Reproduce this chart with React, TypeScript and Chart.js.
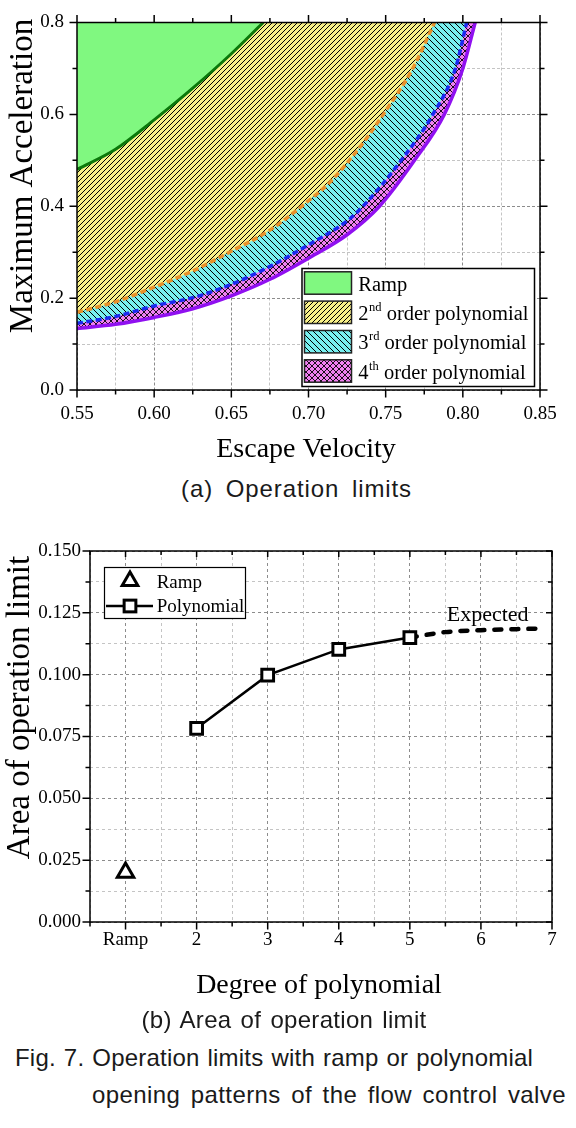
import React, { useEffect, useRef } from 'react';
import { Chart, registerables } from 'chart.js';

Chart.register(...registerables);

const SERIF = '"Liberation Serif", "Times New Roman", serif';
const SANS = '"Liberation Sans", Arial, sans-serif';

// ===== (a) Operation limits =====
const A_X_LABELS = ['0.55', '0.60', '0.65', '0.70', '0.75', '0.80', '0.85'];
const A_Y_LABELS = ['0.0', '0.2', '0.4', '0.6', '0.8'];
const A_X_TITLE = 'Escape Velocity';
const A_Y_TITLE = 'Maximum Acceleration';
const A_SERIES = ['Ramp', '2nd order polynomial', '3rd order polynomial', '4th order polynomial'];

const RAMP_EV = [0.55, 0.575, 0.6, 0.625, 0.65, 0.6707];
const RAMP_ACC = [0.48, 0.524, 0.588, 0.657, 0.732, 0.8];
const POLY2_EV = [0.55, 0.575, 0.6, 0.625, 0.65, 0.675, 0.7, 0.7138, 0.7343, 0.7485, 0.7676, 0.7817];
const POLY2_ACC = [0.169, 0.192, 0.224, 0.259, 0.302, 0.348, 0.412, 0.452, 0.533, 0.6, 0.7, 0.8];
const POLY3_EV = [0.55, 0.575, 0.6, 0.625, 0.65, 0.675, 0.7, 0.725, 0.7353, 0.7601, 0.7806, 0.7952, 0.8025];
const POLY3_ACC = [0.145, 0.16, 0.183, 0.201, 0.23, 0.269, 0.316, 0.368, 0.4, 0.5, 0.6, 0.7, 0.8];
const POLY4_EV = [0.55, 0.575, 0.6, 0.625, 0.65, 0.675, 0.7, 0.725, 0.746, 0.7687, 0.788, 0.8, 0.808];
const POLY4_ACC = [0.134, 0.143, 0.158, 0.177, 0.205, 0.241, 0.287, 0.338, 0.4, 0.5, 0.6, 0.7, 0.8];

// ===== (b) Area of operation limit =====
const B_X_LABELS = ['Ramp', '2', '3', '4', '5', '6', '7'];
const B_X_POS = [1, 2, 3, 4, 5, 6, 7];
const B_Y_LABELS = ['0.000', '0.025', '0.050', '0.075', '0.100', '0.125', '0.150'];
const B_X_TITLE = 'Degree of polynomial';
const B_Y_TITLE = 'Area of operation limit';
const B_SERIES = ['Ramp', 'Polynomial'];
const RAMP_DEGREE = [1];
const RAMP_AREA = [0.02];
const POLY_DEGREE = [2, 3, 4, 5];
const POLY_AREA = [0.0783, 0.0998, 0.1102, 0.115];
const EXPECTED_DEGREE = [5, 5.5, 6, 6.5, 6.9];
const EXPECTED_AREA = [0.115, 0.1172, 0.118, 0.1184, 0.1187];
const EXPECTED_TEXT = 'Expected';

const CAPTION_A = '(a) Operation limits';
const CAPTION_B = '(b) Area of operation limit';
const FIG_LINE1 = 'Fig. 7. Operation limits with ramp or polynomial';
const FIG_LINE2 = 'opening patterns of the flow control valve';

function withMinors(majors: number[]): number[] {
  const out: number[] = [];
  majors.forEach((m, i) => {
    out.push(m);
    if (i < majors.length - 1) out.push((m + majors[i + 1]) / 2);
  });
  return out;
}
function isMajor(majors: number[], v: number | undefined) {
  return v !== undefined && majors.some((m) => Math.abs(m - v) < 1e-9);
}
function labelAt(labels: string[], pos: number[], v: number) {
  const i = pos.findIndex((p) => Math.abs(p - v) < 1e-9);
  return i >= 0 ? labels[i] : '';
}

function hatch(bg: string, dirs: string[], size: number, lw: number): any {
  const c = document.createElement('canvas');
  c.width = size;
  c.height = size;
  const g = c.getContext('2d');
  if (!g) return bg;
  g.fillStyle = bg;
  g.fillRect(0, 0, size, size);
  g.strokeStyle = '#000';
  g.lineWidth = lw;
  for (const d of dirs) {
    g.beginPath();
    for (const o of [-size, 0, size]) {
      if (d === '/') {
        g.moveTo(o, size);
        g.lineTo(o + size, 0);
      } else {
        g.moveTo(o, 0);
        g.lineTo(o + size, size);
      }
    }
    g.stroke();
  }
  return g.createPattern(c, 'repeat') || bg;
}

type TickCfg = {
  out: { left: boolean; right: boolean; top: boolean; bottom: boolean };
  major: number;
  minor: number;
  inMajor: number;
  inMinor: number;
};

function drawFrame(chart: any, xMaj: number[], yMaj: number[], cfg: TickCfg) {
  const { ctx, chartArea: a } = chart;
  const sx = chart.scales.x;
  const sy = chart.scales.y;
  const len = (maj: boolean, out: boolean) =>
    out ? (maj ? cfg.major : cfg.minor) : maj ? cfg.inMajor : cfg.inMinor;
  ctx.save();
  ctx.strokeStyle = '#000';
  ctx.lineWidth = 1.5;
  ctx.beginPath();
  for (const t of sx.ticks) {
    const p = sx.getPixelForValue(t.value);
    const maj = isMajor(xMaj, t.value);
    const lb = len(maj, cfg.out.bottom);
    ctx.moveTo(p, a.bottom);
    ctx.lineTo(p, a.bottom + (cfg.out.bottom ? lb : -lb));
    const lt = len(maj, cfg.out.top);
    ctx.moveTo(p, a.top);
    ctx.lineTo(p, a.top + (cfg.out.top ? -lt : lt));
  }
  for (const t of sy.ticks) {
    const p = sy.getPixelForValue(t.value);
    const maj = isMajor(yMaj, t.value);
    const ll = len(maj, cfg.out.left);
    ctx.moveTo(a.left, p);
    ctx.lineTo(a.left + (cfg.out.left ? -ll : ll), p);
    const lr = len(maj, cfg.out.right);
    ctx.moveTo(a.right, p);
    ctx.lineTo(a.right + (cfg.out.right ? lr : -lr), p);
  }
  ctx.stroke();
  ctx.strokeRect(a.left, a.top, a.right - a.left, a.bottom - a.top);
  ctx.restore();
}

function textH(ctx: CanvasRenderingContext2D, s: string, x: number, y: number, font: string, align: CanvasTextAlign = 'center') {
  ctx.save();
  ctx.font = font;
  ctx.fillStyle = '#000';
  ctx.textAlign = align;
  ctx.textBaseline = 'alphabetic';
  ctx.fillText(s, x, y);
  ctx.restore();
}
function textV(ctx: CanvasRenderingContext2D, s: string, x: number, y: number, font: string) {
  ctx.save();
  ctx.translate(x, y);
  ctx.rotate(-Math.PI / 2);
  ctx.font = font;
  ctx.fillStyle = '#000';
  ctx.textAlign = 'center';
  ctx.textBaseline = 'alphabetic';
  ctx.fillText(s, 0, 0);
  ctx.restore();
}

function axisCommon(majors: number[], tickVals: number[], labels: string[], pos: number[], pad: number, dash: number[]) {
  return {
    type: 'linear' as const,
    afterBuildTicks: (s: any) => {
      s.ticks = tickVals.map((v) => ({ value: v }));
    },
    ticks: {
      autoSkip: false,
      maxRotation: 0,
      minRotation: 0,
      padding: pad,
      color: '#000',
      font: { family: SERIF, size: 19, lineHeight: 1 },
      callback: (v: any) => labelAt(labels, pos, Number(v)),
    },
    grid: {
      color: (c: any) => (isMajor(majors, c.tick ? c.tick.value : undefined) ? '#8c8c8c' : '#c4c4c4'),
      lineWidth: 1,
      drawTicks: false,
    },
    border: { display: false, dash },
  };
}

function ChartA() {
  const ref = useRef<HTMLCanvasElement>(null);
  useEffect(() => {
    const canvas = ref.current;
    if (!canvas) return;
    const fills = [
      '#80F880',
      hatch('#F8F088', ['/'], 5, 1.0),
      hatch('#78F0F0', ['\\'], 6, 1.0),
      hatch('#F080F0', ['/', '\\'], 6, 0.9),
    ];
    const lineColors = ['#0A780A', '#E8902A', '#1A2AF0', '#9010F0'];
    const dashes = [[], [6, 3.5], [6, 3.5], []];
    const widths = [3, 3.5, 3.5, 3.5];
    const xs = [RAMP_EV, POLY2_EV, POLY3_EV, POLY4_EV];
    const ys = [RAMP_ACC, POLY2_ACC, POLY3_ACC, POLY4_ACC];
    const xMaj = A_X_LABELS.map(Number);
    const yMaj = A_Y_LABELS.map(Number);

    const deco = {
      id: 'decoA',
      afterDatasetsDraw(chart: any) {
        drawFrame(chart, xMaj, yMaj, {
          out: { left: true, right: true, top: true, bottom: true },
          major: 7.5,
          minor: 4.5,
          inMajor: 0,
          inMinor: 0,
        });
      },
      afterDraw(chart: any) {
        const ctx = chart.ctx as CanvasRenderingContext2D;
        textH(ctx, A_X_TITLE, 306, 457, `28px ${SERIF}`);
        textV(ctx, A_Y_TITLE, 31.5, 176, `33px ${SERIF}`);
        // legend
        const bx = 302, by = 268.5, bw = 232.5, bh = 118;
        ctx.save();
        ctx.fillStyle = '#fff';
        ctx.fillRect(bx, by, bw, bh);
        ctx.strokeStyle = '#000';
        ctx.lineWidth = 1.5;
        ctx.strokeRect(bx, by, bw, bh);
        const rows = [283, 312.3, 341.7, 371];
        A_SERIES.forEach((name, i) => {
          const cy = rows[i];
          ctx.fillStyle = fills[i];
          ctx.fillRect(304.5, cy - 11.2, 47, 22.4);
          ctx.strokeStyle = '#222';
          ctx.lineWidth = 1.5;
          ctx.strokeRect(304.5, cy - 11.2, 47, 22.4);
          const m = name.match(/^(\d)(st|nd|rd|th)(.*)$/);
          const base = cy + 7.5;
          ctx.fillStyle = '#000';
          ctx.textAlign = 'left';
          ctx.textBaseline = 'alphabetic';
          const big = `20.5px ${SERIF}`;
          const small = `12.5px ${SERIF}`;
          let x = 358.3;
          if (m) {
            ctx.font = big;
            ctx.fillText(m[1], x, base);
            x += ctx.measureText(m[1]).width + 0.5;
            ctx.font = small;
            ctx.fillText(m[2], x, base - 9);
            x += ctx.measureText(m[2]).width;
            ctx.font = big;
            ctx.fillText(m[3], x, base);
          } else {
            ctx.font = big;
            ctx.fillText(name, x, base);
          }
        });
        ctx.restore();
      },
    };

    const chart = new Chart(canvas, {
      type: 'line',
      data: {
        datasets: A_SERIES.map((name, i) => ({
          label: name,
          data: xs[i].map((x, j) => ({ x, y: ys[i][j] })),
          borderColor: lineColors[i],
          borderWidth: widths[i],
          borderDash: dashes[i],
          backgroundColor: fills[i],
          fill: 'end',
          pointRadius: 0,
          pointHoverRadius: 0,
          cubicInterpolationMode: 'monotone',
          clip: 0,
        })) as any,
      },
      options: {
        responsive: false,
        animation: false,
        devicePixelRatio: 1,
        events: [],
        layout: { padding: { left: 0, top: 18, right: 36, bottom: 0 } },
        plugins: { legend: { display: false }, tooltip: { enabled: false } },
        scales: {
          x: {
            ...axisCommon(xMaj, withMinors(xMaj), A_X_LABELS, xMaj, 15, [3, 2]),
            min: 0.55,
            max: 0.85,
            afterFit: (s: any) => {
              s.height = 80;
            },
          },
          y: {
            ...axisCommon(yMaj, withMinors(yMaj), A_Y_LABELS, yMaj, 13, [3, 2]),
            min: 0,
            max: 0.8,
            afterFit: (s: any) => {
              s.width = 77;
            },
          },
        } as any,
      },
      plugins: [deco],
    });
    return () => chart.destroy();
  }, []);
  return (
    <canvas
      ref={ref}
      width={576}
      height={470}
      style={{ position: 'absolute', left: 0, top: 0, width: 576, height: 470 }}
    />
  );
}

function ChartB() {
  const ref = useRef<HTMLCanvasElement>(null);
  useEffect(() => {
    const canvas = ref.current;
    if (!canvas) return;
    const xMaj = B_X_POS;
    const xTicks = withMinors([0, ...B_X_POS]).filter((v) => v >= 0.5);
    const yMaj = B_Y_LABELS.map(Number);

    const drawTri = (ctx: CanvasRenderingContext2D, x: number, y: number, r: number) => {
      let rad = 0;
      ctx.beginPath();
      ctx.moveTo(x + Math.sin(rad) * r, y - Math.cos(rad) * r);
      rad += (2 * Math.PI) / 3;
      ctx.lineTo(x + Math.sin(rad) * r, y - Math.cos(rad) * r);
      rad += (2 * Math.PI) / 3;
      ctx.lineTo(x + Math.sin(rad) * r, y - Math.cos(rad) * r);
      ctx.closePath();
      ctx.fill();
      ctx.stroke();
    };

    const deco = {
      id: 'decoB',
      afterDatasetsDraw(chart: any) {
        drawFrame(chart, xMaj, yMaj, {
          out: { left: true, right: false, top: false, bottom: true },
          major: 7.5,
          minor: 4.5,
          inMajor: 6,
          inMinor: 4,
        });
      },
      afterDraw(chart: any) {
        const ctx = chart.ctx as CanvasRenderingContext2D;
        textH(ctx, B_X_TITLE, 319, 473.3, `28px ${SERIF}`);
        textV(ctx, B_Y_TITLE, 29, 187.5, `33px ${SERIF}`);
        textH(ctx, EXPECTED_TEXT, 446.7, 100.7, `22px ${SERIF}`, 'left');
        // legend
        ctx.save();
        ctx.fillStyle = '#fff';
        ctx.fillRect(104.5, 47.5, 141, 51);
        ctx.strokeStyle = '#000';
        ctx.lineWidth = 1.2;
        ctx.strokeRect(104.5, 47.5, 141, 51);
        ctx.lineWidth = 3;
        ctx.fillStyle = '#fff';
        drawTri(ctx, 130, 61, 9);
        ctx.lineWidth = 2.5;
        ctx.beginPath();
        ctx.moveTo(106, 86);
        ctx.lineTo(153, 86);
        ctx.stroke();
        ctx.lineWidth = 3;
        const s = 8.3 * Math.SQRT1_2;
        ctx.fillRect(130 - s, 86 - s, 2 * s, 2 * s);
        ctx.strokeRect(130 - s, 86 - s, 2 * s, 2 * s);
        ctx.fillStyle = '#000';
        ctx.font = `19px ${SERIF}`;
        ctx.textAlign = 'left';
        ctx.textBaseline = 'alphabetic';
        ctx.fillText(B_SERIES[0], 156.7, 68.3);
        ctx.fillText(B_SERIES[1], 156.7, 92);
        ctx.restore();
      },
    };

    const chart = new Chart(canvas, {
      type: 'line',
      data: {
        datasets: [
          {
            label: B_SERIES[0],
            data: RAMP_DEGREE.map((x, i) => ({ x, y: RAMP_AREA[i] })),
            showLine: false,
            pointStyle: 'triangle',
            pointRadius: 9.5,
            pointBorderWidth: 3,
            pointBorderColor: '#000',
            pointBackgroundColor: '#fff',
            borderColor: '#000',
            backgroundColor: '#fff',
          },
          {
            label: B_SERIES[1],
            data: POLY_DEGREE.map((x, i) => ({ x, y: POLY_AREA[i] })),
            borderColor: '#000',
            borderWidth: 2.5,
            pointStyle: 'rect',
            pointRadius: 8.3,
            pointBorderWidth: 3,
            pointBorderColor: '#000',
            pointBackgroundColor: '#fff',
            fill: false,
          },
          {
            label: EXPECTED_TEXT,
            data: EXPECTED_DEGREE.map((x, i) => ({ x, y: EXPECTED_AREA[i] })),
            borderColor: '#000',
            borderWidth: 4.5,
            borderDash: [7, 10],
            borderCapStyle: 'round',
            pointRadius: 0,
            fill: false,
            cubicInterpolationMode: 'monotone',
          },
        ] as any,
      },
      options: {
        responsive: false,
        animation: false,
        devicePixelRatio: 1,
        events: [],
        layout: { padding: { left: 0, top: 31, right: 24, bottom: 0 } },
        plugins: { legend: { display: false }, tooltip: { enabled: false } },
        scales: {
          x: {
            ...axisCommon(xMaj, xTicks, B_X_LABELS, B_X_POS, 8.5, [3, 3]),
            min: 0.5,
            max: 7,
            afterFit: (s: any) => {
              s.height = 88;
            },
          },
          y: {
            ...axisCommon(yMaj, withMinors(yMaj), B_Y_LABELS, yMaj, 9, [3, 3]),
            min: 0,
            max: 0.15,
            afterFit: (s: any) => {
              s.width = 90;
            },
          },
        } as any,
      },
      plugins: [deco],
    });
    return () => chart.destroy();
  }, []);
  return (
    <canvas
      ref={ref}
      width={576}
      height={490}
      style={{ position: 'absolute', left: 0, top: 520, width: 576, height: 490 }}
    />
  );
}

function Caption({ text, left, top, width, spacing }: { text: string; left: number; top: number; width: number; spacing: number }) {
  return (
    <div
      style={{
        position: 'absolute',
        left,
        top,
        width,
        fontFamily: SANS,
        fontSize: 24,
        lineHeight: '24px',
        letterSpacing: spacing,
        color: '#1a1a1a',
        whiteSpace: 'nowrap',
        textAlign: 'justify',
        textAlignLast: 'justify' as any,
      }}
    >
      {text}
    </div>
  );
}

export default function App() {
  return (
    <div
      style={{
        position: 'absolute',
        left: 0,
        top: 0,
        width: 576,
        height: 1128,
        background: '#fff',
        overflow: 'hidden',
      }}
    >
      <ChartA />
      <ChartB />
      <Caption text={CAPTION_A} left={181} top={477} width={231} spacing={0.9} />
      <Caption text={CAPTION_B} left={141.5} top={1008} width={285} spacing={0.3} />
      <Caption text={FIG_LINE1} left={15} top={1046} width={518} spacing={0.2} />
      <Caption text={FIG_LINE2} left={92} top={1083} width={474} spacing={0.4} />
    </div>
  );
}
